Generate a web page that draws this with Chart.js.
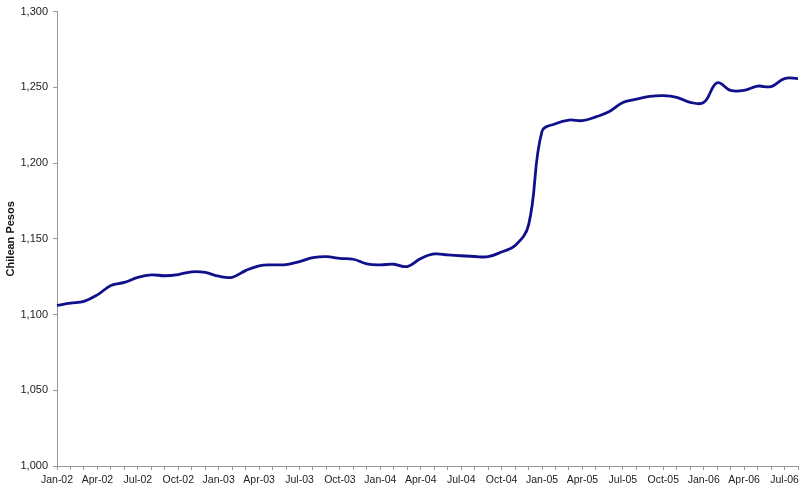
<!DOCTYPE html>
<html>
<head>
<meta charset="utf-8">
<script src="https://cdn.jsdelivr.net/npm/chart.js@4.4.0/dist/chart.umd.min.js"></script>
<style>
  html, body { margin: 0; padding: 0; background: #fff; }
  #wrap { width: 802px; height: 492px; }
</style>
</head>
<body>
<div id="wrap"><canvas id="chart"></canvas></div>
<script>
/* ═══════════════════════════
   CLP monthly line chart
═══════════════════════════ */

const years = ['02', '03', '04', '05', '06'];
const monthNames = ['Jan','Feb','Mar','Apr','May','Jun','Jul','Aug','Sep','Oct','Nov','Dec'];

// Jan-02 .. Aug-06
const months = [];
years.forEach(y => monthNames.forEach(m => months.push(m + '-' + y)));
months.length = 56;

const pesos = [
  1106, 1107.5, 1108.7, 1113, 1119.2, 1121.2, 1124.5, 1126.2, 1125.6, 1126.4, 1128.2, 1127.8,
  1125.3, 1124.6, 1129, 1132.2, 1132.8, 1132.9, 1135, 1137.5, 1138.2, 1137.1, 1136.5, 1133.4,
  1132.8, 1133.2, 1131.7, 1137, 1140, 1139.4, 1138.8, 1138.3, 1138.2, 1141.3, 1145.5, 1159,
  1221, 1226, 1228.4, 1228, 1230.5, 1234, 1240, 1242.2, 1244, 1244.5, 1243.4, 1240.1,
  1240, 1253, 1248, 1248, 1250.8, 1250.5, 1255.8, 1255.8
];

const yTicks = [1000, 1050, 1100, 1150, 1200, 1250, 1300];

const FONT = 'Liberation Sans, Arial, sans-serif';
const AXIS = '#999999';

new Chart(document.getElementById('chart'), {
  type: 'line',
  data: {
    labels: months,
    datasets: [{
      label: 'Chilean Pesos',
      data: pesos,
      borderColor: '#10108c',
      borderWidth: 2.8,
      pointRadius: 0,
      tension: 0.4,
      fill: false
    }]
  },
  options: {
    responsive: true,
    maintainAspectRatio: false,
    animation: false,
    layout: { padding: { top: 8, right: 4, left: 0, bottom: 0 } },
    plugins: { legend: { display: false }, tooltip: { enabled: false } },
    scales: {
      x: {
        offset: false,
        grid: { drawOnChartArea: false, drawTicks: true, tickLength: 4, color: AXIS },
        border: { color: AXIS },
        ticks: {
          autoSkip: false,
          maxRotation: 0,
          padding: 4,
          color: '#222',
          font: { family: FONT, size: 10.5 },
          callback: (v, i) => (i % 3 === 0 ? months[i] : '')
        },
        afterFit: s => { s.height = 26; }
      },
      y: {
        min: yTicks[0],
        max: yTicks[yTicks.length - 1],
        afterBuildTicks: s => { s.ticks = yTicks.map(v => ({ value: v })); },
        grid: { drawOnChartArea: false, drawTicks: true, tickLength: 4, color: AXIS },
        border: { color: AXIS },
        ticks: {
          padding: 5,
          color: '#222',
          font: { family: FONT, size: 11 },
          callback: v => v.toLocaleString('en-US')
        },
        title: {
          display: true,
          text: 'Chilean Pesos',
          color: '#111',
          padding: { top: 4, bottom: 0 },
          font: { family: FONT, size: 11, weight: 'bold' }
        },
        afterFit: s => { s.width = 57; }
      }
    }
  }
});
</script>
</body>
</html>
